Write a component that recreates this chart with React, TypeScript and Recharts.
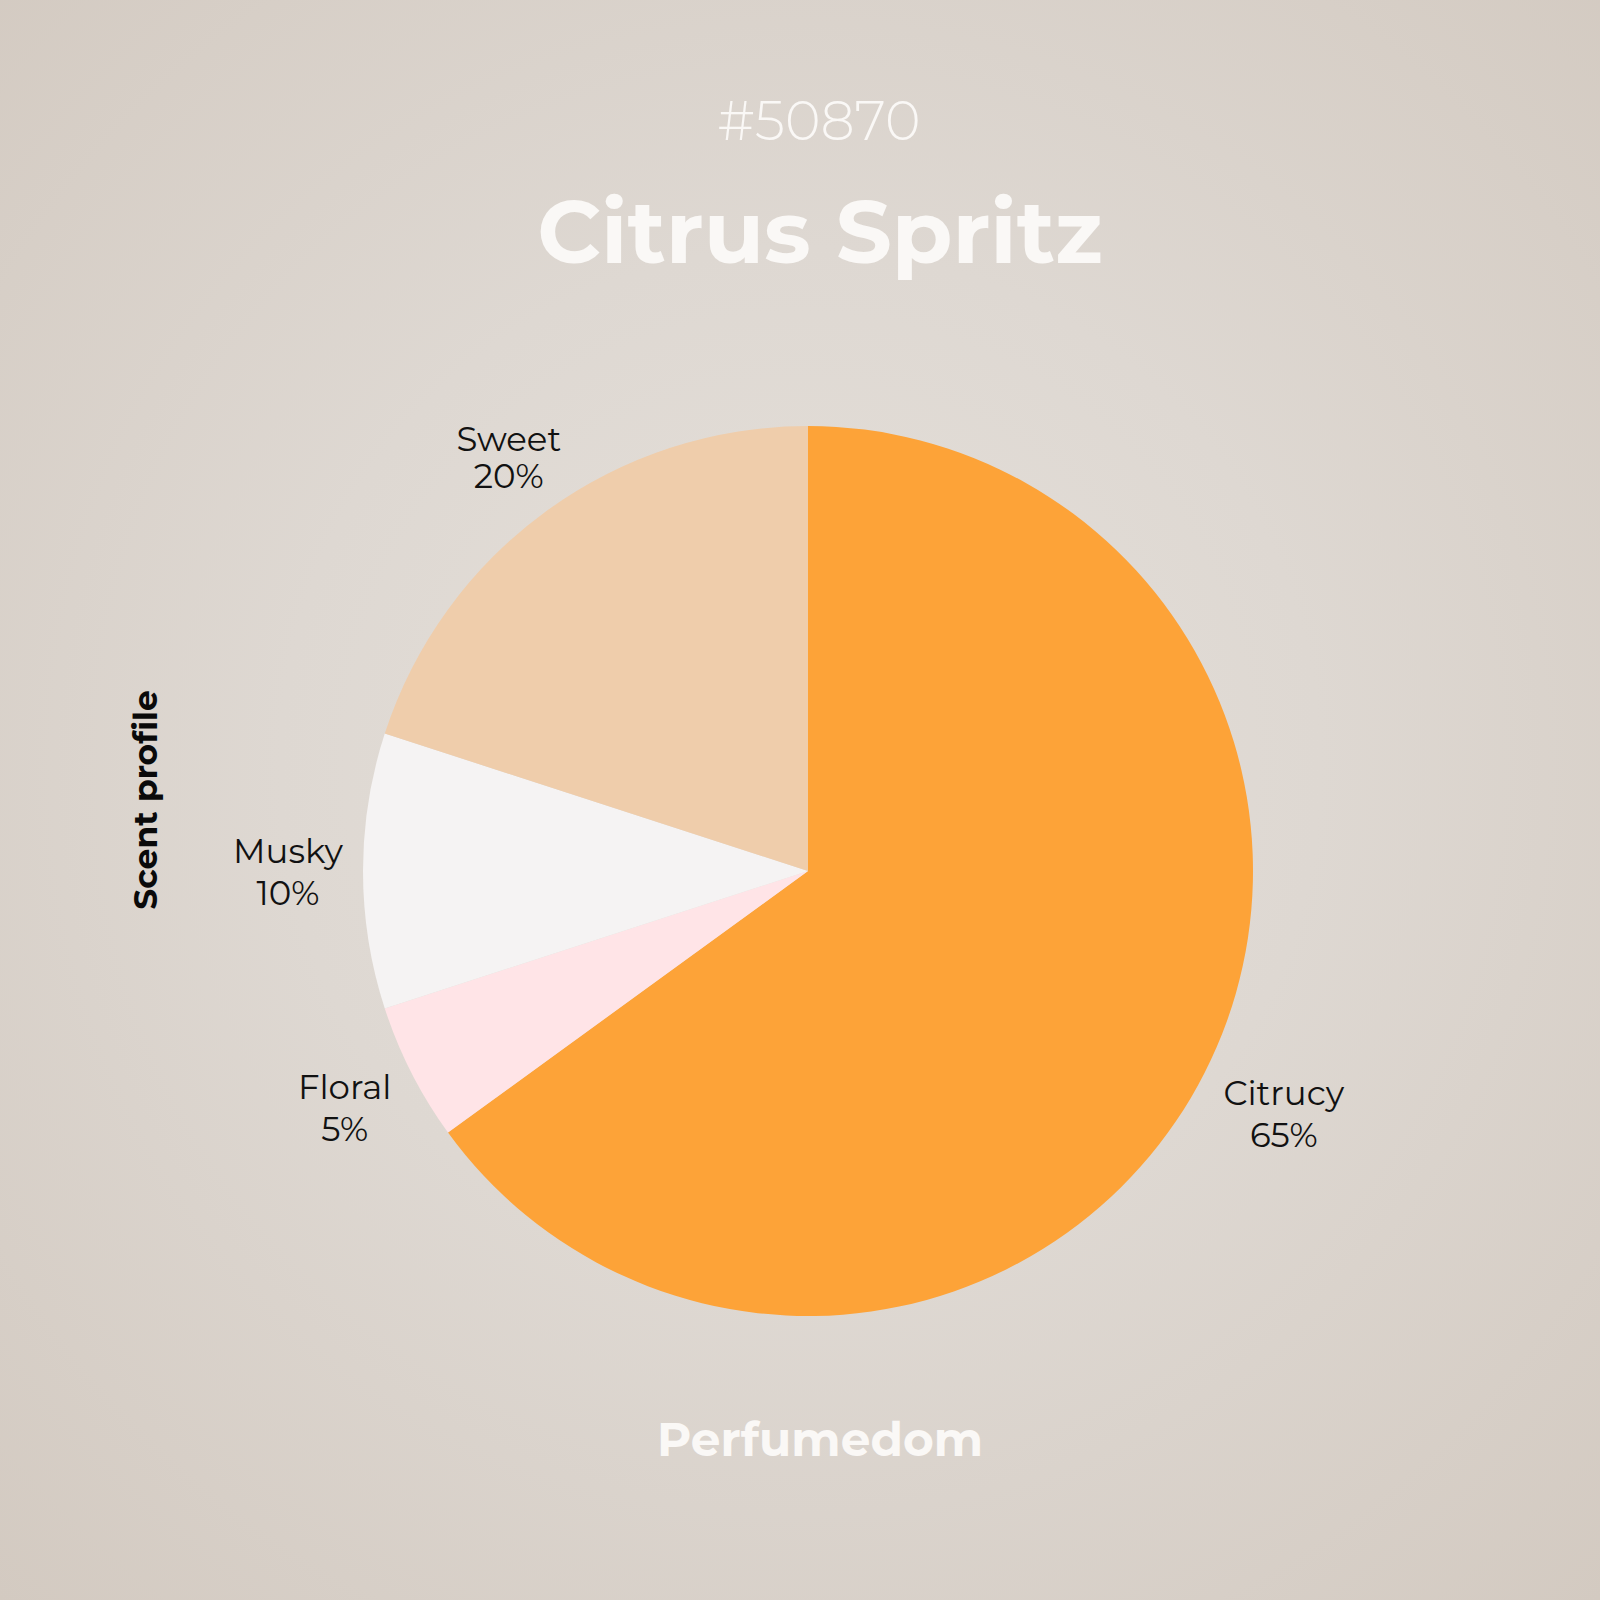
import { PieChart, Pie, Cell } from 'recharts'

const notes = ['Citrucy', 'Floral', 'Musky', 'Sweet']
const shares = [65, 5, 10, 20]
const sliceColors = ['#FDA338', '#FFE4E7', '#F5F3F3', '#EFCDAB']

const data = notes.map((name, i) => ({ name, value: shares[i] }))

const font = 'Montserrat, Inter, "Open Sans", sans-serif'
const RAD = Math.PI / 180

function renderLabel(props: any) {
  const { cx, cy, midAngle, outerRadius, name, value } = props
  const c = Math.cos(-midAngle * RAD)
  const s = Math.sin(-midAngle * RAD)
  // labels on the right sit a little further out, upper-left ones a little closer
  const gap = c > 0.1 ? 89 : s < -0.3 ? 64 : 75
  const lineGap = s < -0.3 ? 37 : 42
  const r = outerRadius + gap
  const x = cx + r * c
  const y = cy + r * s
  return (
    <text x={x} y={y} textAnchor="middle" fill="#111" fontFamily={font} fontSize={34} fontWeight={400}>
      <tspan x={x} dy={-8}>{name}</tspan>
      <tspan x={x} dy={lineGap}>{`${value}%`}</tspan>
    </text>
  )
}

export default function App() {
  return (
    <div
      style={{
        position: 'absolute',
        left: 0,
        top: 0,
        width: 1600,
        height: 1600,
        overflow: 'hidden',
        fontFamily: font,
        background: 'radial-gradient(circle at 50% 48%, #E5E0DA 0%, #DED8D2 45%, #D3CAC1 100%)',
      }}
    >
      <div style={{ position: 'absolute', left: 0, width: 1600, top: 86, textAlign: 'center', fontSize: 54, fontWeight: 300, color: '#FAF8F6', lineHeight: '70px', paddingLeft: 38, boxSizing: 'border-box' }}>
        #50870
      </div>
      <div style={{ position: 'absolute', left: 0, width: 1600, top: 177, textAlign: 'center', fontSize: 88, fontWeight: 700, color: '#FAF8F6', lineHeight: '110px', paddingLeft: 40, boxSizing: 'border-box' }}>
        Citrus Spritz
      </div>
      <div style={{ position: 'absolute', left: 0, width: 1600, top: 1410, textAlign: 'center', fontSize: 47, fontWeight: 700, color: '#FAF8F6', lineHeight: '60px', paddingLeft: 40, boxSizing: 'border-box' }}>
        Perfumedom
      </div>
      <div
        style={{
          position: 'absolute',
          left: 145,
          top: 800,
          transform: 'translate(-50%, -50%) rotate(-90deg)',
          fontSize: 33,
          fontWeight: 700,
          color: '#0A0A0A',
          whiteSpace: 'nowrap',
        }}
      >
        Scent profile
      </div>
      <div style={{ position: 'absolute', left: 0, top: 0 }}>
        <PieChart width={1600} height={1600}>
          <Pie
            data={data}
            dataKey="value"
            nameKey="name"
            cx={803}
            cy={866}
            outerRadius={445}
            startAngle={90}
            endAngle={-270}
            stroke="none"
            labelLine={false}
            label={renderLabel}
            isAnimationActive={false}
          >
            {data.map((d, i) => (
              <Cell key={d.name} fill={sliceColors[i]} />
            ))}
          </Pie>
        </PieChart>
      </div>
    </div>
  )
}
